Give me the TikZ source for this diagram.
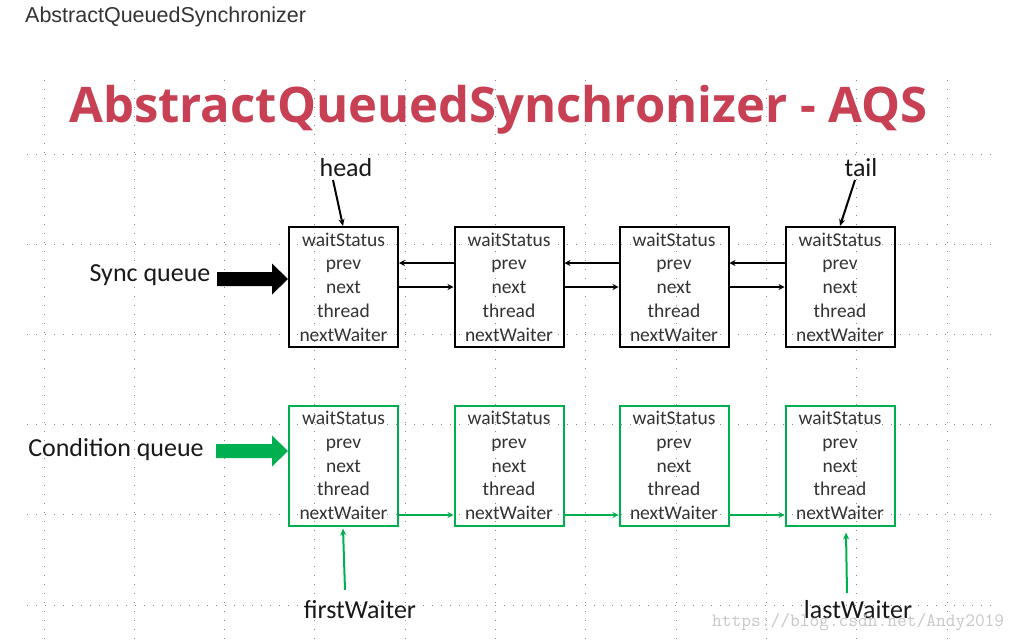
\documentclass[tikz,border=0pt]{standalone}
\usepackage{fontspec}
\setmainfont{Carlito}
\newfontfamily\arialfont{Liberation Sans}
\newfontfamily\titlefont{Open Sans}
\usetikzlibrary{arrows.meta}
\definecolor{titlered}{RGB}{199,64,84}
\definecolor{qgreen}{RGB}{0,176,80}
\definecolor{txtgray}{RGB}{51,51,51}
\definecolor{gridgray}{RGB}{140,140,140}
\begin{document}
\begin{tikzpicture}[x=1pt,y=-1pt,
  grid/.style={gridgray,line width=1pt,dash pattern=on 1pt off 8pt},
  qbox/.style={draw,line width=2pt,minimum width=109pt,minimum height=120pt,inner sep=0pt,
    align=center,font=\fontsize{19.5}{23.7}\selectfont,text=txtgray},
  lbl/.style={font=\fontsize{26}{26}\selectfont,text=black!90},
  link/.style={line width=1.8pt,-{Stealth[length=6pt,width=6pt]}},
  ptr/.style={line width=2pt,-{Stealth[length=7pt,width=6pt]}}]
\useasboundingbox (0,0) rectangle (1022,643);
\fill[white] (0,0) rectangle (1022,643);
% grid
\foreach \i in {0,...,10} \draw[grid] (44+90.3*\i,80) -- (44+90.3*\i,643);
\foreach \j in {0,...,5} \draw[grid] (27,154+90.2*\j) -- (992,154+90.2*\j);
% page title
\node[anchor=base west,font=\arialfont\fontsize{21.5}{21.5}\selectfont,text=txtgray,inner sep=0pt] (pagetitle) at (25,22) {AbstractQueuedSynchronizer};
% big title
\node[anchor=base,font=\titlefont\bfseries\fontsize{49}{49}\selectfont,text=titlered,inner sep=0pt] (title) at (498.5,122) {AbstractQueuedSynchronizer - AQS};
% sync queue boxes
\node[qbox] (s1) at (343.5,287) {waitStatus\\prev\\next\\thread\\nextWaiter};
\node[qbox] (s2) at (509,287) {waitStatus\\prev\\next\\thread\\nextWaiter};
\node[qbox] (s3) at (674,287) {waitStatus\\prev\\next\\thread\\nextWaiter};
\node[qbox] (s4) at (840,287) {waitStatus\\prev\\next\\thread\\nextWaiter};
% condition queue boxes
\node[qbox,draw=qgreen] (c1) at (343.5,465.5) {waitStatus\\prev\\next\\thread\\nextWaiter};
\node[qbox,draw=qgreen] (c2) at (509,465.5) {waitStatus\\prev\\next\\thread\\nextWaiter};
\node[qbox,draw=qgreen] (c3) at (674,465.5) {waitStatus\\prev\\next\\thread\\nextWaiter};
\node[qbox,draw=qgreen] (c4) at (840,465.5) {waitStatus\\prev\\next\\thread\\nextWaiter};
% sync links
\foreach \a/\b in {s1/s2,s2/s3,s3/s4}{
  \draw[link] ([yshift=24pt]\b.west) -- ([yshift=24pt]\a.east);
  \draw[link] ([yshift=0pt]\a.east) -- ([yshift=0pt]\b.west);
}
% condition links
\foreach \a/\b in {c1/c2,c2/c3,c3/c4}{
  \draw[link,qgreen] ([yshift=-49.5pt]\a.east) -- ([yshift=-49.5pt]\b.west);
}
% labels
\node[lbl] (head) at (346,168) {head};
\node[lbl] (tail) at (861,168) {tail};
\node[lbl] (sync) at (150,275) {Sync queue};
\node[lbl] (cond) at (116,450) {Condition queue};
\node[lbl] (first) at (360,610) {firstWaiter};
\node[lbl] (last) at (858,610) {lastWaiter};
% pointers
\draw[ptr] ([xshift=-13pt,yshift=-12pt]head.center) -- ([xshift=-0.5pt]s1.north);
\draw[ptr] ([xshift=-6pt,yshift=-12pt]tail.center) -- (s4.north);
\draw[ptr,qgreen] ([xshift=-15pt,yshift=20pt]first.center) -- ([xshift=-0.5pt,yshift=-2pt]s1.south |- c1.south);
\draw[ptr,qgreen] ([xshift=-11pt,yshift=17pt]last.center) -- ([xshift=6pt,yshift=-6pt]c4.south);
% big arrows
\coordinate (sy) at (0,279);
\coordinate (cy) at (0,451);
\coordinate (stip) at (s1.west |- sy);
\coordinate (ctip) at (c1.west |- cy);
\fill[black] (stip) -- ++(-16,-15.5) -- ++(0,8.5) -- ++(-55,0) -- ++(0,14) -- ++(55,0) -- ++(0,8.5) -- cycle;
\fill[qgreen] (ctip) -- ++(-16,-15.5) -- ++(0,8.5) -- ++(-56,0) -- ++(0,14) -- ++(56,0) -- ++(0,8.5) -- cycle;
% watermark
\node[anchor=west,font=\ttfamily\fontsize{18.9}{18.9}\selectfont,text=black!22,inner sep=0pt] (wm) at (712,622) {https://blog.csdn.net/Andy2019};
\end{tikzpicture}
\end{document}
